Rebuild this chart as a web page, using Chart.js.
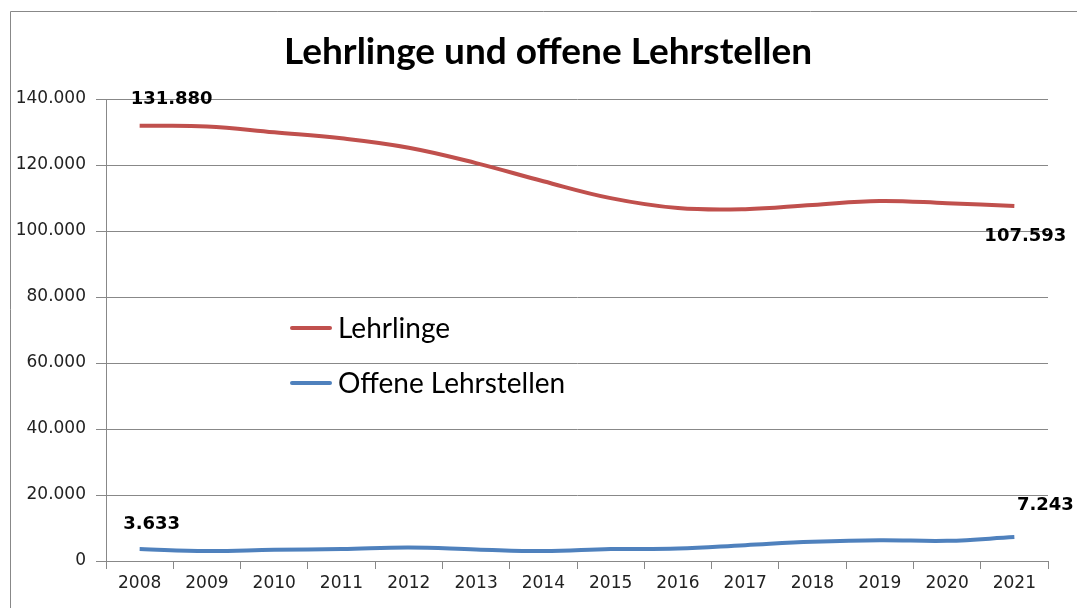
<!DOCTYPE html>
<html>
<head>
<meta charset="utf-8">
<script src="https://cdn.jsdelivr.net/npm/chart.js@4/dist/chart.umd.min.js"></script>
<style>
    body { margin: 0; background: #fff; overflow: hidden; }
    canvas { display: block; }
</style>
</head>
<body>
<canvas id="lehrChart" width="1077" height="608"></canvas>
<script>
const years = ['2008', '2009', '2010', '2011', '2012', '2013', '2014', '2015', '2016', '2017', '2018', '2019', '2020', '2021'];
const lehrlinge = [131880, 131676, 129899, 128078, 125228, 120579, 115068, 109963, 106950, 106613, 107915, 109111, 108416, 107593];
const offeneLehrstellen = [3633, 3000, 3400, 3600, 4100, 3500, 3000, 3600, 3800, 4800, 5800, 6300, 6100, 7243];
const yTicks = [0, 20000, 40000, 60000, 80000, 100000, 120000, 140000];

const chartTitle = 'Lehrlinge und offene Lehrstellen';
const gridColor = '#888888';

function formatDe(v) {
    return String(v).replace(/\B(?=(\d{3})+(?!\d))/g, '.');
}

// frame, title, legend and value labels drawn by hand, like the Excel original
const decorPlugin = {
    id: 'decor',
    beforeDraw(chart) {
        const ctx = chart.ctx;
        ctx.save();
        ctx.fillStyle = '#fff';
        ctx.fillRect(0, 0, chart.width, chart.height);
        ctx.strokeStyle = gridColor;
        ctx.lineWidth = 1;
        ctx.beginPath();
        ctx.moveTo(10.5, chart.height);
        ctx.lineTo(10.5, 11.5);
        ctx.lineTo(chart.width, 11.5);
        ctx.stroke();

        ctx.fillStyle = '#000';
        ctx.font = 'bold 37px Lato';
        ctx.textAlign = 'center';
        ctx.textBaseline = 'middle';
        ctx.fillText(chartTitle, 548, 52);
        ctx.restore();
    },
    afterDatasetsDraw(chart) {
        const ctx = chart.ctx;
        ctx.save();

        // legend inside the plot
        const legendRows = [[0, 328], [1, 383]];
        legendRows.forEach(([i, y]) => {
            const ds = chart.data.datasets[i];
            ctx.strokeStyle = ds.borderColor;
            ctx.lineWidth = 4;
            ctx.lineCap = 'round';
            ctx.beginPath();
            ctx.moveTo(292, y);
            ctx.lineTo(330, y);
            ctx.stroke();
            ctx.fillStyle = '#000';
            ctx.font = '28px Lato';
            ctx.textAlign = 'left';
            ctx.textBaseline = 'middle';
            ctx.fillText(ds.label, 338, y + 1);
        });

        // value labels at first and last points
        const marks = [
            { ds: 0, idx: 0, dx: 32, dy: -26 },
            { ds: 0, idx: years.length - 1, dx: 11, dy: 30 },
            { ds: 1, idx: 0, dx: 12, dy: -25 },
            { ds: 1, idx: years.length - 1, dx: 31, dy: -32 }
        ];
        ctx.font = 'bold 18px "DejaVu Sans"';
        ctx.fillStyle = '#000';
        ctx.textAlign = 'center';
        ctx.textBaseline = 'middle';
        marks.forEach(m => {
            const pt = chart.getDatasetMeta(m.ds).data[m.idx];
            const val = chart.data.datasets[m.ds].data[m.idx];
            ctx.fillText(formatDe(val), pt.x + m.dx, pt.y + m.dy);
        });
        ctx.restore();
    }
};

const ctx = document.getElementById('lehrChart').getContext('2d');
new Chart(ctx, {
    type: 'line',
    data: {
        labels: years,
        datasets: [{
            label: 'Lehrlinge',
            data: lehrlinge,
            borderColor: '#c0504d',
            borderWidth: 4,
            pointRadius: 0,
            tension: 0.4,
            fill: false
        }, {
            label: 'Offene Lehrstellen',
            data: offeneLehrstellen,
            borderColor: '#4f81bd',
            borderWidth: 4,
            pointRadius: 0,
            tension: 0.4,
            fill: false
        }]
    },
    options: {
        responsive: false,
        animation: false,
        devicePixelRatio: 1,
        layout: { padding: { top: 99, right: 29, left: 0, bottom: 0 } },
        plugins: {
            legend: { display: false },
            tooltip: { enabled: false }
        },
        scales: {
            x: {
                offset: true,
                grid: {
                    offset: true,
                    drawOnChartArea: false,
                    color: gridColor,
                    tickLength: 8
                },
                border: { color: gridColor },
                ticks: {
                    color: '#222',
                    font: { family: 'DejaVu Sans', size: 17 },
                    padding: 4,
                    maxRotation: 0
                },
                afterFit(scale) { scale.height = 47; }
            },
            y: {
                min: 0,
                max: 140000,
                afterBuildTicks(scale) {
                    scale.ticks = yTicks.map(v => ({ value: v }));
                },
                grid: {
                    color: gridColor,
                    tickLength: 10
                },
                border: { color: gridColor },
                ticks: {
                    color: '#222',
                    font: { family: 'DejaVu Sans', size: 17 },
                    padding: 10,
                    callback: v => formatDe(v)
                },
                afterFit(scale) { scale.width = 106; }
            }
        }
    },
    plugins: [decorPlugin]
});
</script>
</body>
</html>
